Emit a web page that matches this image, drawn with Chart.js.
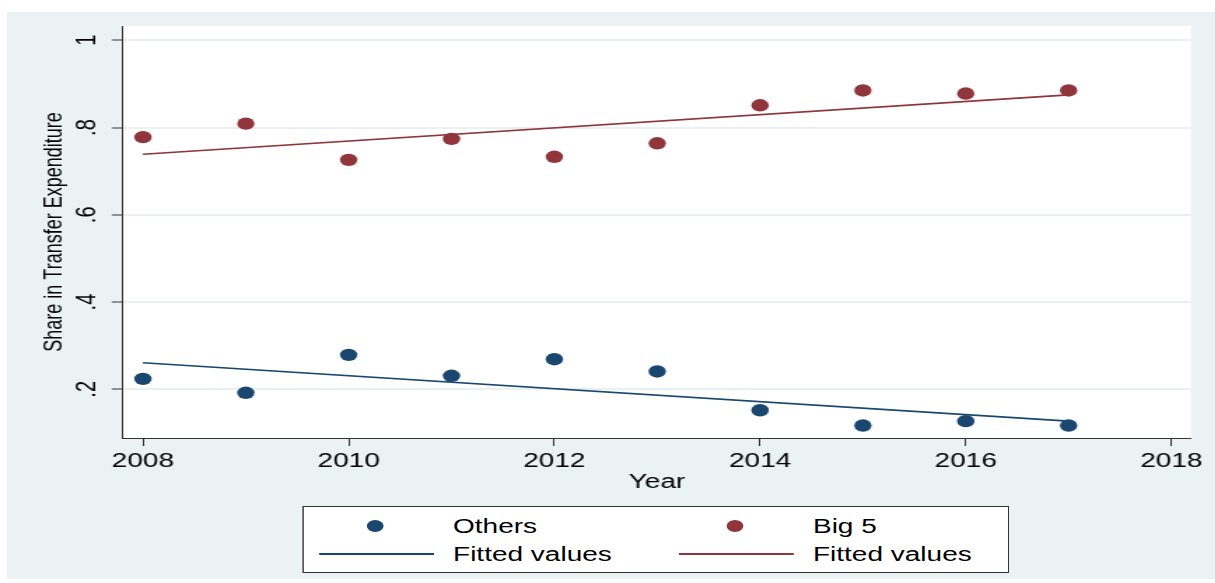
<!DOCTYPE html>
<html>
<head>
<meta charset="utf-8">
<script src="https://cdn.jsdelivr.net/npm/chart.js@4"></script>
<style>
  html, body { margin: 0; padding: 0; background: #fff; }
  body { width: 1215px; height: 583px; position: relative; overflow: hidden; font-family: "Liberation Sans", Arial, sans-serif; }
  /* fundo cinza do gráfico (estilo Stata) */
  #fundo { position: absolute; left: 7px; top: 12px; width: 1208px; height: 567px; background: #eaf2f3; }
  /* a imagem original está esticada na horizontal, por isso o scaleX */
  #wrap { position: absolute; left: 0; top: 0; width: 868px; height: 583px; transform: scaleX(1.4); transform-origin: 0 0; }
  #wrap canvas { position: absolute; left: 0; top: 0; }
  .legenda { position: absolute; left: 216.4px; top: 506px; width: 502.3px; height: 64.7px; border: 1px solid #333; background: #fff; }
  .leg { position: absolute; }
  .ponto { width: 12px; height: 12px; border-radius: 50%; }
  .linha { height: 1.6px; width: 82px; }
  .txt { font-size: 20px; line-height: 20px; color: #000; white-space: nowrap; }
</style>
</head>
<body>
<div id="fundo"></div>
<div id="wrap">
  <canvas id="grafico"></canvas>
  <div class="legenda"></div>
  <div class="leg ponto" style="left:261.9px; top:519.7px; background:#1a476f;"></div>
  <div class="leg txt" style="left:323.6px; top:516px;">Others</div>
  <div class="leg ponto" style="left:519px; top:519.7px; background:#90353b;"></div>
  <div class="leg txt" style="left:580.7px; top:516px;">Big 5</div>
  <div class="leg linha" style="left:227.9px; top:553.2px; background:#1a476f;"></div>
  <div class="leg txt" style="left:323.6px; top:544px;">Fitted values</div>
  <div class="leg linha" style="left:485px; top:553.2px; background:#90353b;"></div>
  <div class="leg txt" style="left:580.7px; top:544px;">Fitted values</div>
</div>

<script>
// Dados
const anos = [2008, 2009, 2010, 2011, 2012, 2013, 2014, 2015, 2016, 2017];
const others = [0.224, 0.192, 0.279, 0.231, 0.269, 0.241, 0.152, 0.117, 0.127, 0.117];
const big5 = [0.778, 0.809, 0.726, 0.774, 0.733, 0.764, 0.851, 0.885, 0.878, 0.885];

// Retas ajustadas (início e fim)
const anosFit = [2008, 2017];
const fitOthers = [0.261, 0.127];
const fitBig5 = [0.739, 0.875];

const ticksX = [2008, 2010, 2012, 2014, 2016, 2018];
const ticksY = [0.2, 0.4, 0.6, 0.8, 1];

const AZUL = "#1a476f";
const VINHO = "#90353b";

Chart.defaults.font.family = "'Liberation Sans', Arial, sans-serif";

function pares(xs, ys) {
  return xs.map((x, i) => ({ x: x, y: ys[i] }));
}

// formato do Stata: .2 .4 .6 .8 1
function formatoY(v) {
  if (v === 1) return "1";
  return v.toFixed(1).replace(/^0/, "");
}

// pinta a área do gráfico de branco
const fundoBranco = {
  id: "fundoBranco",
  beforeDraw(chart) {
    const { ctx, chartArea: a } = chart;
    ctx.save();
    ctx.fillStyle = "#ffffff";
    ctx.fillRect(a.left, a.top, a.right - a.left, a.bottom - a.top);
    ctx.restore();
  },
};

new Chart(document.getElementById("grafico"), {
  type: "scatter",
  data: {
    datasets: [
      {
        label: "Others",
        data: pares(anos, others),
        backgroundColor: AZUL,
        borderWidth: 0,
        pointRadius: 6.2,
        order: 2,
      },
      {
        label: "Big 5",
        data: pares(anos, big5),
        backgroundColor: VINHO,
        borderWidth: 0,
        pointRadius: 6.2,
        order: 2,
      },
      {
        label: "Fitted values",
        data: pares(anosFit, fitOthers),
        showLine: true,
        borderColor: AZUL,
        borderWidth: 1.6,
        pointRadius: 0,
        order: 1,
      },
      {
        label: "Fitted values",
        data: pares(anosFit, fitBig5),
        showLine: true,
        borderColor: VINHO,
        borderWidth: 1.6,
        pointRadius: 0,
        order: 1,
      },
    ],
  },
  options: {
    responsive: true,
    maintainAspectRatio: false,
    animation: false,
    layout: { padding: { left: 0, top: 26, right: 17.3, bottom: 85 } },
    plugins: {
      legend: { display: false },
      tooltip: { enabled: false },
    },
    scales: {
      x: {
        type: "linear",
        min: 2007.806,
        max: 2018.19,
        afterBuildTicks: (s) => {
          s.ticks = ticksX.map((v) => ({ value: v }));
        },
        afterFit: (s) => {
          s.height = 60;
        },
        grid: { drawOnChartArea: false, color: "#333", tickColor: "#333", tickLength: 8, lineWidth: 1 },
        border: { color: "#333", width: 1 },
        ticks: { color: "#000", font: { size: 20 }, padding: 3, maxRotation: 0, callback: (v) => String(v) },
        title: { display: true, text: "Year", color: "#000", font: { size: 20 }, padding: { top: 0, bottom: 3.5 } },
      },
      y: {
        min: 0.0884,
        max: 1.0328,
        afterBuildTicks: (s) => {
          s.ticks = ticksY.map((v) => ({ value: v }));
        },
        afterFit: (s) => {
          s.width = 87.86;
        },
        grid: { color: "#e8f0f2", lineWidth: 2, tickColor: "#333", tickWidth: 1, tickLength: 8 },
        border: { color: "#333", width: 1 },
        ticks: {
          color: "#000",
          font: { size: 20 },
          padding: 8.7,
          minRotation: 90,
          maxRotation: 90,
          crossAlign: "center",
          callback: (v) => formatoY(v),
        },
        title: {
          display: true,
          text: "Share in Transfer Expenditure",
          color: "#000",
          font: { size: 18 },
          padding: { top: 27.8, bottom: 0 },
        },
      },
    },
  },
  plugins: [fundoBranco],
});
</script>
</body>
</html>
